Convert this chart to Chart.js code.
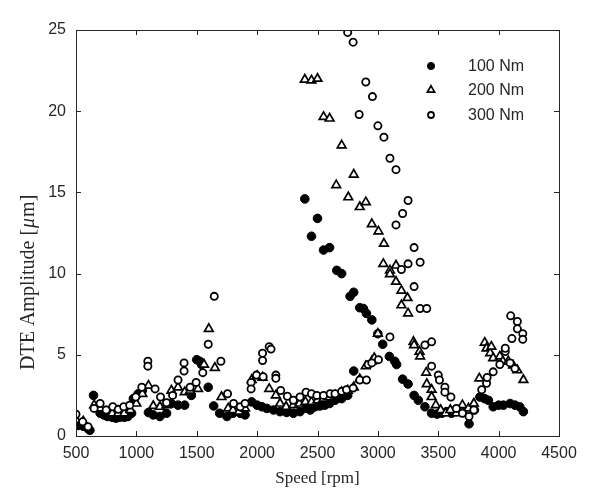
<!DOCTYPE html>
<html>
<head>
<meta charset="utf-8">
<script src="https://cdn.jsdelivr.net/npm/chart.js@4.4.1/dist/chart.umd.min.js"></script>
<style>
  html, body { margin: 0; padding: 0; background: #fff; }
  canvas { display: block; }
</style>
</head>
<body>
<canvas id="dte-chart" width="609" height="498"></canvas>
<script>
// values (speed in rpm, DTE amplitude in um)
const speed100 = [500, 520, 560, 600, 615, 645, 700, 730, 760, 800, 830, 860, 900, 930, 960, 975, 1015, 1050, 1100, 1140, 1195, 1250, 1290, 1345, 1400, 1455, 1500, 1525, 1540, 1595, 1640, 1690, 1750, 1800, 1860, 1900, 1955, 2000, 2040, 2080, 2135, 2190, 2245, 2300, 2355, 2410, 2440, 2480, 2520, 2560, 2600, 2645, 2700, 2750, 2800, 2395, 2450, 2500, 2550, 2600, 2660, 2700, 2770, 2800, 2850, 2880, 2905, 2950, 3000, 3040, 3095, 3140, 3155, 3205, 3250, 3300, 3335, 3390, 3445, 3490, 3530, 3570, 3610, 3650, 3700, 3755, 3800, 3845, 3885, 3915, 3955, 4000, 4040, 4095, 4135, 4175, 4205];
const dte100 = [0.7, 0.65, 0.6, 0.45, 0.35, 2.5, 1.4, 1.3, 1.2, 1.15, 1.1, 1.15, 1.15, 1.2, 1.4, 2.3, 2.6, 2.8, 1.45, 1.3, 1.2, 1.4, 2.0, 1.9, 1.9, 2.5, 4.7, 4.6, 4.4, 3.0, 1.85, 1.4, 1.2, 1.4, 1.4, 1.3, 2.1, 1.9, 1.8, 1.7, 1.6, 1.5, 1.45, 1.4, 1.5, 1.7, 1.6, 1.8, 1.85, 1.9, 2.0, 2.2, 2.3, 2.5, 4.0, 14.6, 12.3, 13.4, 11.45, 11.6, 10.2, 10.0, 8.6, 8.85, 7.9, 7.85, 7.55, 7.15, 6.3, 5.65, 4.9, 4.6, 4.4, 3.5, 3.2, 2.5, 2.2, 1.8, 1.4, 1.35, 1.4, 1.5, 1.4, 1.5, 1.45, 0.75, 1.6, 2.4, 2.3, 2.2, 1.8, 1.9, 1.9, 2.0, 1.9, 1.8, 1.5];

const speed200 = [500, 560, 650, 700, 750, 800, 850, 900, 950, 1000, 1050, 1100, 1140, 1195, 1250, 1290, 1345, 1400, 1445, 1510, 1560, 1600, 1650, 1705, 1760, 1800, 1850, 1900, 1955, 2000, 2045, 2100, 2155, 2190, 2240, 2300, 2350, 2400, 2450, 2500, 2550, 2600, 2650, 2700, 2750, 2800, 2850, 2900, 2950, 2970, 3000, 2395, 2450, 2500, 2550, 2600, 2655, 2700, 2755, 2800, 2850, 2900, 2950, 3005, 3050, 3045, 3100, 3150, 3100, 3150, 3195, 3245, 3195, 3250, 3295, 3300, 3345, 3350, 3400, 3405, 3445, 3445, 3480, 3520, 3560, 3600, 3650, 3700, 3750, 3795, 3840, 3885, 3900, 3930, 3940, 3955, 4010, 4035, 4080, 4120, 4155, 4205];
const dte200 = [1.0, 0.9, 1.9, 1.7, 1.5, 1.4, 1.4, 1.4, 1.6, 2.0, 2.6, 3.1, 1.85, 1.8, 1.9, 2.8, 3.0, 2.7, 2.8, 2.9, 4.4, 6.6, 4.2, 2.4, 1.7, 1.6, 1.5, 1.7, 3.45, 3.7, 3.6, 2.9, 2.5, 2.0, 1.8, 1.9, 2.0, 2.1, 2.1, 2.2, 2.3, 2.4, 2.5, 2.7, 2.8, 3.0, 3.5, 4.3, 4.6, 4.8, 6.3, 21.95, 21.9, 22.0, 19.65, 19.55, 15.45, 17.9, 14.7, 16.1, 14.1, 14.4, 13.05, 12.6, 11.85, 10.6, 10.2, 10.5, 9.97, 9.5, 8.95, 8.5, 8.05, 7.55, 5.8, 5.6, 5.2, 4.9, 3.9, 3.2, 2.85, 2.4, 1.9, 1.6, 1.4, 1.6, 1.4, 1.9, 1.7, 2.0, 3.55, 5.75, 5.4, 5.1, 5.5, 4.8, 4.9, 4.6, 4.6, 4.35, 4.05, 3.45];

const speed300 = [500, 555, 600, 650, 700, 750, 805, 850, 895, 945, 995, 1045, 1095, 1095, 1155, 1200, 1250, 1300, 1345, 1395, 1395, 1445, 1495, 1550, 1595, 1645, 1700, 1755, 1805, 1860, 1900, 1950, 1950, 1995, 2045, 2045, 2050, 2100, 2115, 2155, 2155, 2195, 2250, 2300, 2355, 2405, 2450, 2495, 2550, 2605, 2645, 2700, 2740, 2795, 2850, 2905, 2920, 2950, 3005, 3100, 2750, 2795, 2845, 2900, 2955, 3000, 3050, 3100, 3150, 3150, 3205, 3250, 3195, 3250, 3300, 3350, 3300, 3350, 3405, 3390, 3445, 3445, 3500, 3510, 3555, 3555, 3605, 3650, 3700, 3755, 3795, 3860, 3900, 3905, 3955, 4010, 4055, 4055, 4095, 4135, 4100, 4155, 4155, 4200, 4200, 4110];
const dte300 = [1.34, 0.88, 0.57, 1.7, 2.0, 1.6, 1.8, 1.64, 1.8, 1.9, 2.4, 3.0, 4.6, 4.3, 2.9, 2.4, 2.05, 2.5, 3.45, 4.0, 4.5, 3.0, 3.3, 3.9, 5.65, 8.6, 4.6, 2.6, 2.0, 1.8, 2.0, 3.3, 2.9, 3.75, 5.1, 4.65, 3.65, 5.5, 5.35, 3.75, 3.55, 2.8, 2.45, 2.2, 2.4, 2.7, 2.6, 2.5, 2.5, 2.6, 2.6, 2.75, 2.85, 2.95, 3.45, 3.45, 4.4, 4.5, 4.7, 6.1, 24.85, 24.25, 19.8, 21.8, 20.9, 19.1, 18.4, 17.1, 16.4, 13.0, 13.7, 14.5, 10.25, 10.6, 11.6, 10.7, 9.2, 7.85, 7.85, 5.6, 5.8, 4.3, 3.75, 3.45, 3.0, 2.7, 2.4, 1.7, 1.4, 1.2, 1.6, 2.85, 3.25, 3.6, 3.95, 4.4, 5.2, 5.4, 4.5, 4.15, 7.4, 7.05, 6.6, 6.3, 5.95, 6.0];

const seriesLabels = ['100 Nm', '200 Nm', '300 Nm'];
const xTicks = [500, 1000, 1500, 2000, 2500, 3000, 3500, 4000, 4500];
const yTicks = [0, 5, 10, 15, 20, 25];

const axisColor = '#262626';

function toPoints(xs, ys) {
  return xs.map((x, i) => ({ x: x, y: ys[i] }));
}

// ticks pointing into the plot + box around it
const boxAndTicks = {
  id: 'boxAndTicks',
  afterDatasetsDraw(chart) {
    const { ctx, chartArea: a, scales } = chart;
    ctx.save();
    ctx.strokeStyle = axisColor;
    ctx.lineWidth = 1;
    ctx.strokeRect(a.left + 0.5, a.top + 0.5, a.right - a.left, a.bottom - a.top);
    ctx.beginPath();
    xTicks.forEach(v => {
      const px = Math.round(scales.x.getPixelForValue(v)) + 0.5;
      ctx.moveTo(px, a.bottom); ctx.lineTo(px, a.bottom - 5);
      ctx.moveTo(px, a.top); ctx.lineTo(px, a.top + 5);
    });
    yTicks.forEach(v => {
      const py = Math.round(scales.y.getPixelForValue(v)) + 0.5;
      ctx.moveTo(a.left, py); ctx.lineTo(a.left + 5, py);
      ctx.moveTo(a.right, py); ctx.lineTo(a.right - 5, py);
    });
    ctx.stroke();
    ctx.restore();
  }
};

// legend inside the plot, markers drawn with the chart's own point helper
const insideLegend = {
  id: 'insideLegend',
  afterDraw(chart) {
    const ctx = chart.ctx;
    ctx.save();
    const rows = [66, 90, 115];
    chart.data.datasets.forEach((ds, i) => {
      ctx.fillStyle = ds.backgroundColor;
      ctx.strokeStyle = '#000';
      ctx.lineWidth = ds.borderWidth;
      Chart.helpers.drawPoint(ctx, {
        pointStyle: ds.pointStyle,
        radius: ds.legendRadius,
        borderWidth: ds.borderWidth,
        rotation: 0
      }, 431, rows[i]);
      ctx.fillStyle = axisColor;
      ctx.font = '16px "Liberation Sans", Arial, sans-serif';
      ctx.textAlign = 'left';
      ctx.textBaseline = 'middle';
      ctx.fillText(seriesLabels[i], 468, rows[i] + 1);
    });
    ctx.restore();
  }
};

// y title with italic mu
const yTitle = {
  id: 'yTitle',
  afterDraw(chart) {
    const ctx = chart.ctx;
    ctx.save();
    ctx.translate(29, 370);
    ctx.rotate(-Math.PI / 2);
    ctx.fillStyle = axisColor;
    ctx.textAlign = 'left';
    ctx.textBaseline = 'middle';
    const roman = '20px "Liberation Serif", "Times New Roman", serif';
    const italic = 'italic 20px "Liberation Serif", "Times New Roman", serif';
    let x = 0;
    ctx.font = roman;
    ctx.fillText('DTE Amplitude [', x, 0);
    x += ctx.measureText('DTE Amplitude [').width + 1;
    ctx.font = italic;
    ctx.fillText('\u03BC', x, 0);
    x += ctx.measureText('\u03BC').width + 1;
    ctx.font = roman;
    ctx.fillText('m]', x, 0);
    ctx.restore();
  }
};

const ctx = document.getElementById('dte-chart').getContext('2d');

new Chart(ctx, {
  type: 'scatter',
  data: {
    datasets: [
      {
        label: seriesLabels[0],
        data: toPoints(speed100, dte100),
        pointStyle: 'circle',
        pointRadius: 4.3,
        backgroundColor: '#000',
        borderColor: '#000',
        borderWidth: 1,
        legendRadius: 3.6,
        order: 3
      },
      {
        label: seriesLabels[1],
        data: toPoints(speed200, dte200),
        pointStyle: 'triangle',
        pointRadius: 5,
        backgroundColor: '#fff',
        borderColor: '#000',
        borderWidth: 1.7,
        legendRadius: 4.2,
        order: 2
      },
      {
        label: seriesLabels[2],
        data: toPoints(speed300, dte300),
        pointStyle: 'circle',
        pointRadius: 3.6,
        backgroundColor: '#fff',
        borderColor: '#000',
        borderWidth: 1.8,
        legendRadius: 3,
        order: 1
      }
    ]
  },
  options: {
    responsive: false,
    animation: false,
    devicePixelRatio: 1,
    layout: { padding: { top: 30, right: 50, left: 0, bottom: 0 } },
    plugins: {
      legend: { display: false },
      tooltip: { enabled: false }
    },
    scales: {
      x: {
        type: 'linear',
        min: 500,
        max: 4500,
        afterBuildTicks: (scale) => { scale.ticks = xTicks.map(v => ({ value: v })); },
        afterFit: (scale) => { scale.height = 62; },
        ticks: {
          color: axisColor,
          padding: 8,
          maxRotation: 0,
          font: { family: '"Liberation Sans", Arial, sans-serif', size: 16 },
          callback: (v) => String(v)
        },
        grid: { display: false, drawTicks: false },
        border: { display: false },
        title: {
          display: true,
          text: 'Speed [rpm]',
          color: axisColor,
          font: { family: '"Liberation Serif", "Times New Roman", serif', size: 17 },
          padding: { top: 0, bottom: 9 }
        }
      },
      y: {
        type: 'linear',
        min: 0,
        max: 25,
        afterBuildTicks: (scale) => { scale.ticks = yTicks.map(v => ({ value: v })); },
        afterFit: (scale) => { scale.width = 76; },
        ticks: {
          color: axisColor,
          padding: 10,
          font: { family: '"Liberation Sans", Arial, sans-serif', size: 16 },
          callback: (v) => String(v)
        },
        grid: { display: false, drawTicks: false },
        border: { display: false }
      }
    }
  },
  plugins: [boxAndTicks, insideLegend, yTitle]
});
</script>
</body>
</html>
